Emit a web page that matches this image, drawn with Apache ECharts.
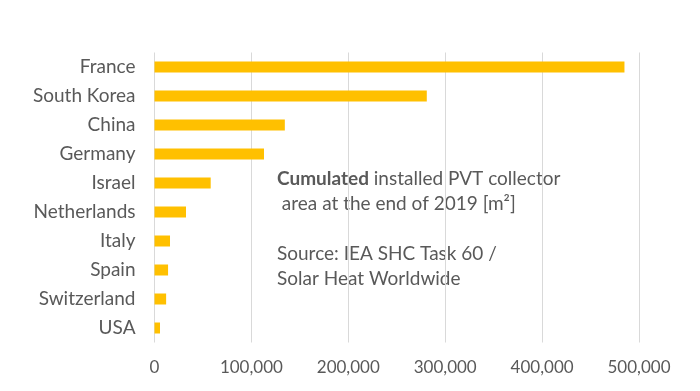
<!DOCTYPE html>
<html><head><meta charset="utf-8">
<script src="https://cdn.jsdelivr.net/npm/echarts@6/dist/echarts.min.js"></script>
<style>html,body{margin:0;padding:0;background:#fff}#c{width:700px;height:391px}</style>
</head><body><div id="c"></div>
<script>
const categories = ['France','South Korea','China','Germany','Israel','Netherlands','Italy','Spain','Switzerland','USA'];
const values = [485000, 281000, 134500, 113000, 58000, 32500, 16000, 14000, 12000, 5700];
const tickMax = 500000;
const tickStep = 100000;

const font = 'Lato, "Open Sans", sans-serif';
const chart = echarts.init(document.getElementById('c'), null, {renderer:'canvas'});
chart.setOption({
  animation:false,
  grid:{left:154.5, right:61, top:52.5, bottom:48.5, containLabel:false},
  xAxis:{type:'value', min:0, max:tickMax, interval:tickStep,
    axisLine:{show:false}, axisTick:{show:false},
    splitLine:{lineStyle:{color:'#D9D9D9', width:1}},
    axisLabel:{color:'#595959', fontSize:17, fontFamily:font, margin:17,
      formatter:v=>v.toLocaleString('en-US')}},
  yAxis:{type:'category', data:categories, inverse:true,
    axisLine:{show:false}, axisTick:{show:false},
    axisLabel:{color:'#595959', fontSize:19, fontFamily:font, margin:19}},
  series:[{type:'bar', data:values, barWidth:11, itemStyle:{color:'#FFC000'}}],
  graphic:[{type:'text', left:277, top:166, style:{
    text:'{b|Cumulated} installed PVT collector\n area at the end of 2019 [m²]\n\nSource: IEA SHC Task 60 /\nSolar Heat Worldwide',
    fill:'#595959', font:'19px '+font, lineHeight:25,
    rich:{b:{fontWeight:'bold', fontSize:19, fontFamily:font, fill:'#595959', lineHeight:25}}
  }}]
});
</script></body></html>
